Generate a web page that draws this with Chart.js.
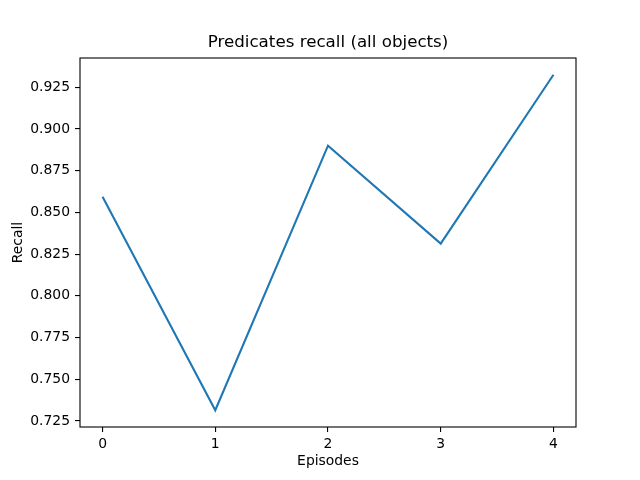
<!DOCTYPE html>
<html>
<head>
<meta charset="utf-8">
<script src="https://cdn.jsdelivr.net/npm/chart.js@4"></script>
<style>
  html, body { margin: 0; padding: 0; background: #fff; }
  canvas { display: block; }
</style>
</head>
<body>
<canvas id="chart" width="640" height="480"></canvas>
<script>
const episodes = [0, 1, 2, 3, 4];
const recall = [0.8594, 0.7314, 0.8900, 0.8313, 0.9325];
const xTicks = [0, 1, 2, 3, 4];
const yTicks = [0.725, 0.750, 0.775, 0.800, 0.825, 0.850, 0.875, 0.900, 0.925];

// matplotlib-style 5% margins around the data
const yLo = Math.min(...recall), yHi = Math.max(...recall);
const yPad = (yHi - yLo) * 0.05;
const xLo = Math.min(...episodes), xHi = Math.max(...episodes);
const xPad = (xHi - xLo) * 0.05;

const FONT = 'DejaVu Sans';

// draw the full box around the axes
const frame = {
  id: 'frame',
  afterDraw(chart) {
    const { ctx, chartArea: a } = chart;
    ctx.save();
    ctx.strokeStyle = '#000';
    ctx.lineWidth = 1.1;
    ctx.strokeRect(a.left, a.top, a.right - a.left, a.bottom - a.top);
    ctx.restore();
  }
};

new Chart(document.getElementById('chart').getContext('2d'), {
  type: 'line',
  data: {
    datasets: [{
      data: episodes.map((e, i) => ({ x: e, y: recall[i] })),
      xAxisID: 'x',
      yAxisID: 'y',
      borderColor: '#1f77b4',
      borderWidth: 2.1,
      pointRadius: 0,
      tension: 0,
      fill: false
    }]
  },
  options: {
    responsive: false,
    animation: false,
    devicePixelRatio: 1,
    layout: { padding: { left: 0, right: 64, top: 0, bottom: 0 } },
    plugins: {
      legend: { display: false },
      tooltip: { enabled: false },
      title: { display: false }
    },
    scales: {
      x: {
        type: 'linear',
        position: 'bottom',
        min: xLo - xPad,
        max: xHi + xPad,
        afterBuildTicks: (s) => { s.ticks = xTicks.map(v => ({ value: v })); },
        afterFit: (s) => { s.height = 53; },
        border: { display: false },
        grid: { drawOnChartArea: false, drawTicks: true, tickLength: 5, color: '#000', lineWidth: 1.1 },
        ticks: {
          color: '#000',
          padding: 4,
          maxRotation: 0,
          font: { family: FONT, size: 13.9 },
          callback: (v) => String(v)
        },
        title: {
          display: true,
          text: 'Episodes',
          color: '#000',
          font: { family: FONT, size: 13.9 },
          padding: { top: 0, bottom: 10 }
        }
      },
      y: {
        type: 'linear',
        min: yLo - yPad,
        max: yHi + yPad,
        afterBuildTicks: (s) => { s.ticks = yTicks.map(v => ({ value: v })); },
        afterFit: (s) => { s.width = 80; },
        border: { display: false },
        grid: { drawOnChartArea: false, drawTicks: true, tickLength: 5, color: '#000', lineWidth: 1.1 },
        ticks: {
          color: '#000',
          padding: 5,
          font: { family: FONT, size: 13.9 },
          callback: (v) => v.toFixed(3)
        },
        title: {
          display: true,
          text: 'Recall',
          color: '#000',
          font: { family: FONT, size: 13.9 },
          padding: { top: 10, bottom: 0 }
        }
      },
      // empty top axis, only used to centre the title over the plot area
      top: {
        type: 'linear',
        position: 'top',
        min: 0,
        max: 1,
        afterFit: (s) => { s.height = 58; },
        border: { display: false },
        grid: { display: false },
        ticks: { display: false },
        title: {
          display: true,
          text: 'Predicates recall (all objects)',
          color: '#000',
          font: { family: FONT, size: 16.7, weight: 'normal' },
          padding: { top: 33, bottom: 0 }
        }
      }
    }
  },
  plugins: [frame]
});
</script>
</body>
</html>
